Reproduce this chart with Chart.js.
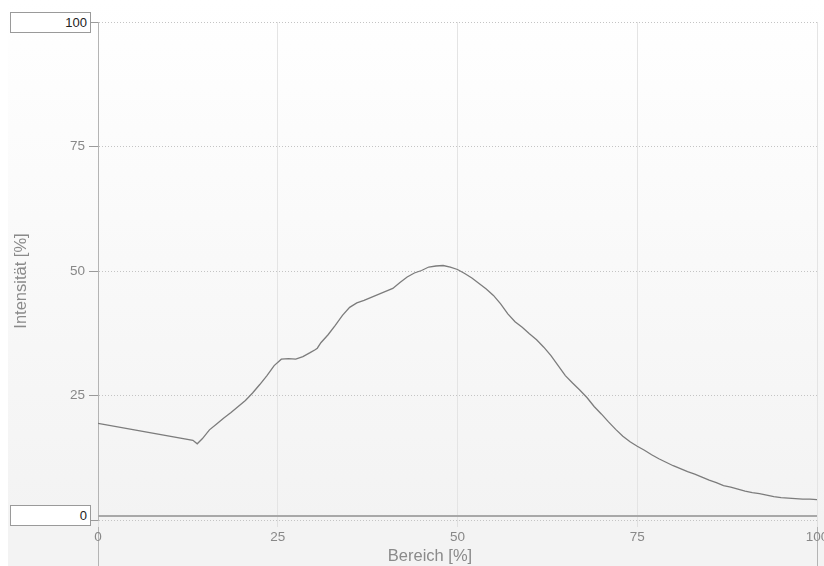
<!DOCTYPE html>
<html>
<head>
<meta charset="utf-8">
<script src="https://cdn.jsdelivr.net/npm/chart.js@4/dist/chart.umd.min.js"></script>
<style>
  html, body { margin: 0; padding: 0; background: #fff; }
  #wrap { position: relative; width: 824px; height: 566px; overflow: hidden; }
  #bg { position: absolute; left: 8px; top: 0; right: 0; bottom: 0;
        background: linear-gradient(to bottom, #ffffff 0%, #f3f3f3 92%, #f3f3f3 100%); }
  #plot { position: absolute; left: 0; top: 0; width: 840px; height: 566px; }
  .limit { position: absolute; left: 10px; width: 76px; height: 19px; border: 1px solid #9a9a9a;
           background: #fff; font: 13px "Liberation Sans", Arial, sans-serif; color: #222;
           text-align: right; line-height: 20px; padding-right: 3px; }
</style>
</head>
<body>
<div id="wrap">
  <div id="bg"></div>
  <canvas id="plot" width="840" height="566"></canvas>
  <div class="limit" style="top:12px;">100</div>
  <div class="limit" style="top:505px;">0</div>
</div>
<script>
const bereich = [0, 13.2, 13.8, 14.5, 15.5, 16.5, 17.5, 18.5, 19.5, 20.5, 21.5, 22.5, 23.5, 24.5, 25.5,
  26.5, 27.5, 28.5, 29.5, 30.2, 30.5, 31, 32, 33, 34, 35, 36, 37, 38, 39, 40, 41, 42, 43, 44, 45, 46,
  47, 48, 49, 50, 51, 52, 53, 54, 55, 56, 57, 58, 59, 60, 61, 62, 63, 64, 65, 66, 67, 68, 69, 70,
  71, 72, 73, 74, 75, 76, 77, 78, 79, 80, 81, 82, 83, 84, 85, 86, 87, 88, 89, 90, 91, 92, 93, 94,
  95, 96, 97, 98, 99, 100];
const intensitaet = [19.4, 16.0, 15.3, 16.3, 18.1, 19.3, 20.5, 21.6, 22.8, 24.0, 25.5, 27.2, 29.0, 31.0, 32.3,
  32.4, 32.3, 32.8, 33.6, 34.2, 34.5, 35.6, 37.2, 39.1, 41.1, 42.7, 43.6, 44.1, 44.7, 45.3, 45.9, 46.5, 47.7,
  48.8, 49.6, 50.1, 50.8, 51.0, 51.1, 50.8, 50.3, 49.5, 48.6, 47.5, 46.4, 45.1, 43.4, 41.4, 39.8, 38.7,
  37.4, 36.2, 34.7, 33.0, 31.0, 29.0, 27.5, 26.1, 24.6, 22.8, 21.3, 19.7, 18.2, 16.8, 15.7, 14.8, 14.0,
  13.1, 12.3, 11.6, 10.9, 10.3, 9.7, 9.2, 8.6, 8.0, 7.5, 6.9, 6.6, 6.2, 5.8, 5.5, 5.3, 5.0, 4.7, 4.5,
  4.4, 4.3, 4.2, 4.2, 4.1];
const xTicks = [0, 25, 50, 75, 100];
const yTicks = [0, 25, 50, 75, 100];
const xTitle = 'Bereich [%]';
const yTitle = 'Intensität [%]';

const fontFamily = '"Liberation Sans", Arial, sans-serif';

// Achsenlinien, Grundlinie und Achsentitel
const axisExtras = {
  id: 'axisExtras',
  beforeDraw(chart) {
    const { ctx, chartArea } = chart;
    ctx.save();
    ctx.strokeStyle = '#b4b4b4';
    ctx.lineWidth = 1;
    [chartArea.left, chartArea.right].forEach(x => {
      ctx.beginPath();
      ctx.moveTo(Math.round(x) + 0.5, chartArea.top);
      ctx.lineTo(Math.round(x) + 0.5, chart.height);
      ctx.stroke();
    });
    ctx.restore();
  },
  beforeDatasetsDraw(chart) {
    const { ctx, chartArea } = chart;
    ctx.save();
    ctx.strokeStyle = '#a8a8a8';
    ctx.lineWidth = 2;
    ctx.beginPath();
    ctx.moveTo(chartArea.left, chartArea.bottom - 4);
    ctx.lineTo(chartArea.right, chartArea.bottom - 4);
    ctx.stroke();

    ctx.fillStyle = '#8a8a8a';
    ctx.font = '16.5px ' + fontFamily;
    ctx.textAlign = 'center';
    ctx.textBaseline = 'alphabetic';
    ctx.fillText(xTitle, 430, 561);
    ctx.translate(26, 281);
    ctx.rotate(-Math.PI / 2);
    ctx.fillText(yTitle, 0, 0);
    ctx.restore();
  }
};

new Chart(document.getElementById('plot'), {
  type: 'line',
  data: {
    datasets: [{
      data: bereich.map((x, i) => ({ x: x, y: intensitaet[i] })),
      borderColor: '#7c7c7c',
      borderWidth: 1.3,
      pointRadius: 0,
      tension: 0
    }]
  },
  options: {
    responsive: false,
    animation: false,
    layout: { padding: { top: 22, right: 23, left: 0, bottom: 0 } },
    plugins: { legend: { display: false }, tooltip: { enabled: false } },
    scales: {
      x: {
        type: 'linear',
        min: 0, max: 100,
        afterBuildTicks: s => { s.ticks = xTicks.map(v => ({ value: v })); },
        afterFit: s => { s.height = 46; },
        ticks: { color: '#888', font: { family: fontFamily, size: 13.5 }, padding: 2, maxRotation: 0 },
        grid: { color: '#e4e4e4', tickColor: '#e0e0e0', tickLength: 7, lineWidth: 1 },
        border: { display: false }
      },
      y: {
        min: 0, max: 100,
        afterBuildTicks: s => { s.ticks = yTicks.map(v => ({ value: v })); },
        afterFit: s => { s.width = 98; },
        ticks: { color: '#888', font: { family: fontFamily, size: 13.5 }, padding: 4,
                 callback: v => (v === 0 || v === 100) ? '' : v },
        grid: { color: '#c4c4c4', tickColor: '#9a9a9a', tickLength: 9, tickBorderDash: [], lineWidth: 1 },
        border: { color: '#b4b4b4', width: 1, dash: [1, 2] }
      }
    }
  },
  plugins: [axisExtras]
});
</script>
</body>
</html>
